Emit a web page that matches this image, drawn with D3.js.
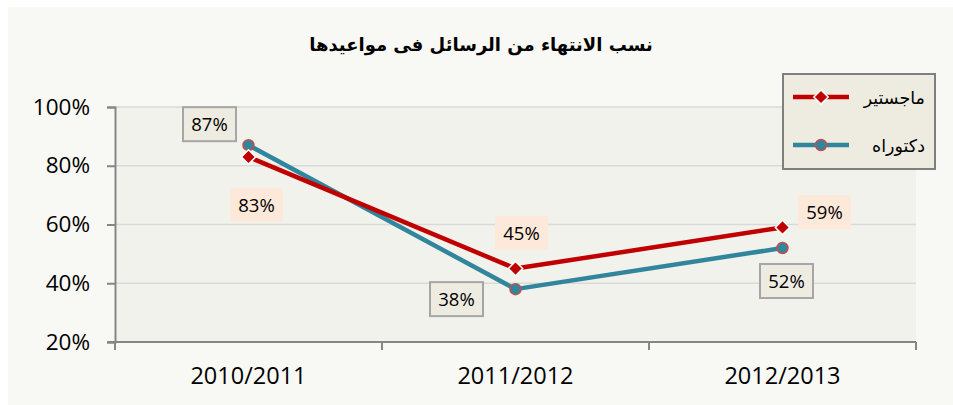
<!DOCTYPE html>
<html>
<head>
<meta charset="utf-8">
<script src="https://cdn.jsdelivr.net/npm/d3@7"></script>
<style>
  html, body { margin: 0; padding: 0; background: #ffffff; }
  svg { display: block; }
</style>
</head>
<body>
<script>
// Completion rates of theses on schedule, by academic year
const categories = ["2010/2011", "2011/2012", "2012/2013"];
const masters = [83, 45, 59];
const doctorate = [87, 38, 52];
const seriesNames = ["ماجستير", "دكتوراه"];
const yTicks = [20, 40, 60, 80, 100];
const title = "نسب الانتهاء من الرسائل فى مواعيدها";

const W = 953, H = 405;
const svg = d3.select("body").append("svg").attr("width", W).attr("height", H);

// chart area
svg.append("rect").attr("x", 8).attr("y", 7).attr("width", W - 8).attr("height", H - 7)
  .attr("fill", "#f8f8f4");

const plot = { left: 115, right: 916, top: 107, bottom: 342 };

svg.append("rect")
  .attr("x", plot.left).attr("y", plot.top)
  .attr("width", plot.right - plot.left).attr("height", plot.bottom - plot.top)
  .attr("fill", "#f2f2ed");

const x = d3.scaleBand().domain(categories).range([plot.left, plot.right]);
const y = d3.scaleLinear().domain([20, 100]).range([plot.bottom, plot.top]);
const cx = d => x(d) + x.bandwidth() / 2;

// gridlines
svg.append("g").selectAll("line").data(yTicks.filter(t => t > 20)).join("line")
  .attr("x1", plot.left).attr("x2", plot.right)
  .attr("y1", d => y(d)).attr("y2", d => y(d))
  .attr("stroke", "#d9d9d9").attr("stroke-width", 1.5);

// y axis
const yAxis = svg.append("g").attr("transform", `translate(${plot.left},0)`)
  .call(d3.axisLeft(y).tickValues(yTicks).tickFormat(d => d + "%").tickSize(8).tickPadding(17));
yAxis.select(".domain").attr("stroke", "#868686").attr("stroke-width", 2);
yAxis.selectAll(".tick line").attr("stroke", "#868686").attr("stroke-width", 2);
yAxis.selectAll(".tick text").attr("font-family", "'Open Sans', 'Noto Sans', sans-serif")
  .attr("font-size", 22.5).attr("fill", "#000");

// x axis with ticks at category boundaries
const xAxisG = svg.append("g").attr("transform", `translate(0,${plot.bottom})`);
xAxisG.append("line").attr("x1", plot.left - 8).attr("x2", plot.right)
  .attr("y1", 0).attr("y2", 0).attr("stroke", "#868686").attr("stroke-width", 2);
const bounds = categories.map(c => x(c)).concat([x(categories[categories.length - 1]) + x.bandwidth()]);
xAxisG.selectAll("line.tk").data(bounds).join("line").attr("class", "tk")
  .attr("x1", d => d).attr("x2", d => d).attr("y1", 0).attr("y2", 8)
  .attr("stroke", "#868686").attr("stroke-width", 2);
xAxisG.selectAll("text").data(categories).join("text")
  .attr("x", d => cx(d)).attr("y", 42).attr("text-anchor", "middle")
  .attr("font-family", "'Open Sans', 'Noto Sans', sans-serif").attr("font-size", 23.5)
  .attr("fill", "#000").text(d => d);

// title
svg.append("text").attr("x", 481).attr("y", 51).attr("text-anchor", "middle")
  .attr("font-family", "'DejaVu Sans', sans-serif").attr("font-weight", "bold")
  .attr("font-size", 18).attr("fill", "#000").attr("direction", "rtl").text(title);

const line = d3.line().x(d => cx(d.c)).y(d => y(d.v));
const redCol = "#c00000", tealCol = "#31859c";

const dData = categories.map((c, i) => ({ c, v: doctorate[i] }));
const mData = categories.map((c, i) => ({ c, v: masters[i] }));

svg.append("path").datum(dData).attr("d", line).attr("fill", "none")
  .attr("stroke", tealCol).attr("stroke-width", 4.5).attr("stroke-linejoin", "round");
svg.append("path").datum(mData).attr("d", line).attr("fill", "none")
  .attr("stroke", redCol).attr("stroke-width", 4.5).attr("stroke-linejoin", "round");

const diamond = d3.symbol().type(d3.symbolDiamond2).size(130);

function drawDiamond(g, px, py) {
  g.append("path").attr("d", diamond()).attr("transform", `translate(${px},${py})`)
    .attr("fill", redCol).attr("stroke", "#ffffff").attr("stroke-width", 1.5);
}
function drawCircle(g, px, py) {
  g.append("circle").attr("cx", px).attr("cy", py).attr("r", 5.5)
    .attr("fill", tealCol).attr("stroke", "#c0504d").attr("stroke-width", 1.5);
}

const markers = svg.append("g");
dData.forEach(d => drawCircle(markers, cx(d.c), y(d.v)));
mData.forEach(d => drawDiamond(markers, cx(d.c), y(d.v)));

// data labels: offsets from the point to the label centre
const mOffsets = [[8, 48], [6, -36], [42, -15]];
const dOffsets = [[-39, -21], [-59, 10], [4, 33]];

function drawLabel(px, py, text, bg, border) {
  const w = 53, h = 34;
  const g = svg.append("g");
  g.append("rect").attr("x", px - w / 2).attr("y", py - h / 2).attr("width", w).attr("height", h)
    .attr("fill", bg).attr("stroke", border || "none").attr("stroke-width", border ? 2 : 0);
  g.append("text").attr("x", px).attr("y", py + 7).attr("text-anchor", "middle")
    .attr("font-family", "'Open Sans', 'Noto Sans', sans-serif").attr("font-size", 18.5)
    .attr("fill", "#000").text(text);
}
mData.forEach((d, i) => drawLabel(cx(d.c) + mOffsets[i][0], y(d.v) + mOffsets[i][1], d.v + "%", "#fde9d9", null));
dData.forEach((d, i) => drawLabel(cx(d.c) + dOffsets[i][0], y(d.v) + dOffsets[i][1], d.v + "%", "#eeece1", "#a6a6a6"));

// legend
const lg = svg.append("g");
lg.append("rect").attr("x", 783).attr("y", 74).attr("width", 152).attr("height", 95)
  .attr("fill", "#eeece1").attr("stroke", "#7f7f7f").attr("stroke-width", 2);
const legendRows = [
  { name: seriesNames[0], col: redCol, y: 97, mark: drawDiamond },
  { name: seriesNames[1], col: tealCol, y: 145, mark: drawCircle }
];
legendRows.forEach(r => {
  lg.append("line").attr("x1", 793).attr("x2", 849).attr("y1", r.y).attr("y2", r.y)
    .attr("stroke", r.col).attr("stroke-width", 4.5);
  r.mark(lg, 821, r.y);
  lg.append("text").attr("x", 925).attr("y", r.y + 7).attr("text-anchor", "end")
    .attr("font-family", "'DejaVu Sans', sans-serif").attr("font-size", 17.5)
    .attr("fill", "#000").text(r.name);
});
</script>
</body>
</html>
